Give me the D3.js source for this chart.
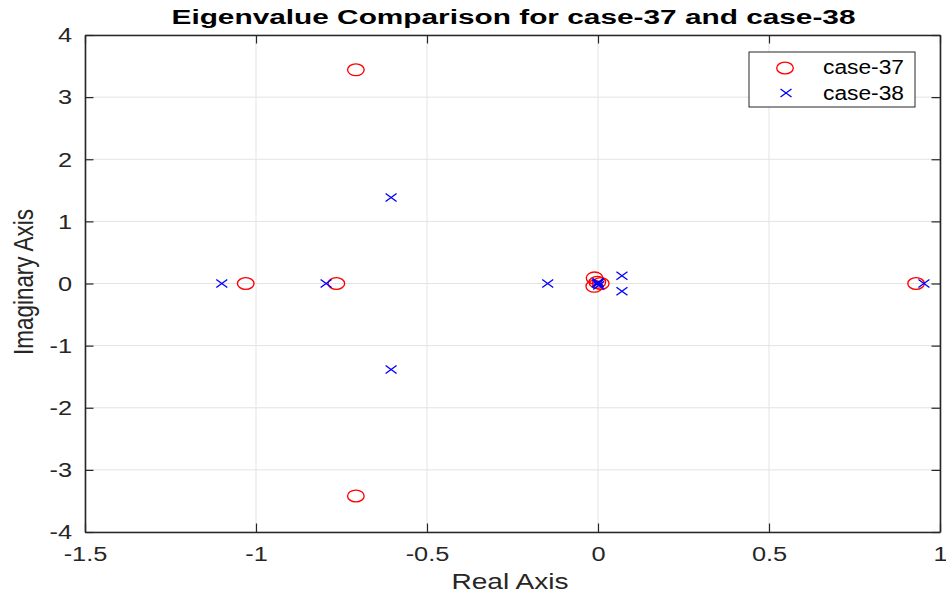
<!DOCTYPE html>
<html><head><meta charset="utf-8">
<script src="https://cdn.jsdelivr.net/npm/d3@7/dist/d3.min.js"></script>
<style>body{margin:0;background:#fff}svg{display:block}</style>
</head><body>
<svg id="chart" width="946" height="599"></svg>
<script>
// ---- data ----
const xTicks = [-1.5, -1, -0.5, 0, 0.5, 1];
const xTickLabels = ["-1.5", "-1", "-0.5", "0", "0.5", "1"];
const yTicks = [-4, -3, -2, -1, 0, 1, 2, 3, 4];
const yTickLabels = ["-4", "-3", "-2", "-1", "0", "1", "2", "3", "4"];
const seriesNames = ["case-37", "case-38"];
const case37Real = [-0.708, -0.708, -1.03, -0.765, 0.93, -0.010, -0.011, 0.008, -0.002];
const case37Imag = [3.44, -3.42, 0, 0, 0, 0.09, -0.045, 0, 0.02];
const case38Real = [-1.10, -0.795, -0.605, -0.605, -0.147, 0.07, 0.07, 0.953, 0, 0.002, -0.002, 0.001];
const case38Imag = [0, 0, 1.385, -1.385, 0, 0.125, -0.125, 0, 0.02, -0.03, 0, 0.005];
const titleText = "Eigenvalue Comparison for case-37 and case-38";
const xLabelText = "Real Axis";
const yLabelText = "Imaginary Axis";

// ---- layout ----
const L = 85, R = 940, T = 35, B = 532;
const FONT = "'Liberation Sans', Arial, Helvetica, sans-serif";
const AX = "#262626";
const SX = 1.3; // horizontal stretch of the reference text
const svg = d3.select("#chart");
svg.append("rect").attr("width", 946).attr("height", 599).attr("fill", "#fff");

const x = d3.scaleLinear().domain([-1.5, 1]).range([L, R]);
const y = d3.scaleLinear().domain([-4, 4]).range([B, T]);

// grid
const grid = svg.append("g").attr("stroke", "#e3e3e3").attr("stroke-width", 1);
grid.selectAll(".gx").data(xTicks).join("line")
  .attr("x1", d => x(d)).attr("x2", d => x(d)).attr("y1", T).attr("y2", B);
grid.selectAll(".gy").data(yTicks).join("line")
  .attr("y1", d => y(d)).attr("y2", d => y(d)).attr("x1", L).attr("x2", R);

// axes
const TK = 8.5;
function styleAxis(g) {
  g.select(".domain").attr("stroke", AX).attr("stroke-width", 1.6);
  g.selectAll(".tick line").attr("stroke", AX).attr("stroke-width", 1.2);
  g.selectAll("text").attr("fill", AX).attr("font-family", FONT).attr("font-size", 19.5);
}
const gxB = svg.append("g").attr("transform", `translate(0,${B})`)
  .call(d3.axisBottom(x).tickValues(xTicks).tickFormat((d, i) => xTickLabels[i]).tickSizeInner(-TK).tickSizeOuter(0));
styleAxis(gxB);
gxB.selectAll("text").attr("y", 28.5).attr("dy", 0);
const gxT = svg.append("g").attr("transform", `translate(0,${T})`)
  .call(d3.axisTop(x).tickValues(xTicks).tickFormat("").tickSizeInner(-TK).tickSizeOuter(0));
styleAxis(gxT);
const gyL = svg.append("g").attr("transform", `translate(${L},0)`)
  .call(d3.axisLeft(y).tickValues(yTicks).tickFormat((d, i) => yTickLabels[i]).tickSizeInner(-TK).tickSizeOuter(0));
styleAxis(gyL);
gyL.selectAll("text").attr("x", -13).attr("dy", "0.35em");
const gyR = svg.append("g").attr("transform", `translate(${R},0)`)
  .call(d3.axisRight(y).tickValues(yTicks).tickFormat("").tickSizeInner(-TK).tickSizeOuter(0));
styleAxis(gyR);

// stretch tick labels horizontally
svg.selectAll(".tick text").each(function () {
  const w = this.getComputedTextLength();
  if (w > 0) d3.select(this).attr("textLength", w * SX).attr("lengthAdjust", "spacingAndGlyphs");
});

// data
const plot = svg.append("g");
const d37 = case37Real.map((r, i) => ({ r, im: case37Imag[i] }));
const d38 = case38Real.map((r, i) => ({ r, im: case38Imag[i] }));
plot.selectAll(".c37").data(d37).join("ellipse")
  .attr("cx", d => x(d.r)).attr("cy", d => y(d.im)).attr("rx", 8.3).attr("ry", 5.9)
  .attr("fill", "none").attr("stroke", "#ff0000").attr("stroke-width", 1.35);
const xPath = (cx, cy) => `M${cx - 5.5},${cy - 4}L${cx + 5.5},${cy + 4}M${cx - 5.5},${cy + 4}L${cx + 5.5},${cy - 4}`;
plot.selectAll(".c38").data(d38).join("path")
  .attr("d", d => xPath(x(d.r), y(d.im)))
  .attr("fill", "none").attr("stroke", "#0000ff").attr("stroke-width", 1.35);

// title & labels
svg.append("text").attr("x", (L + R) / 2 + 1).attr("y", 24).attr("text-anchor", "middle")
  .attr("font-family", FONT).attr("font-weight", "bold").attr("font-size", 20).attr("fill", "#000")
  .attr("textLength", 684).attr("lengthAdjust", "spacingAndGlyphs").text(titleText);
svg.append("text").attr("x", 510).attr("y", 589).attr("text-anchor", "middle")
  .attr("font-family", FONT).attr("font-size", 22).attr("fill", AX)
  .attr("textLength", 117).attr("lengthAdjust", "spacingAndGlyphs").text(xLabelText);
svg.append("text").attr("transform", "translate(33,282) rotate(-90)").attr("text-anchor", "middle")
  .attr("font-family", FONT).attr("font-size", 27.5).attr("fill", AX)
  .attr("textLength", 146).attr("lengthAdjust", "spacingAndGlyphs").text(yLabelText);

// legend
const lg = svg.append("g");
lg.append("rect").attr("x", 749).attr("y", 52).attr("width", 166).attr("height", 55)
  .attr("fill", "#fff").attr("stroke", AX).attr("stroke-width", 1);
lg.append("ellipse").attr("cx", 785).attr("cy", 68).attr("rx", 8.3).attr("ry", 5.9)
  .attr("fill", "none").attr("stroke", "#ff0000").attr("stroke-width", 1.35);
lg.append("path").attr("d", xPath(786, 93)).attr("fill", "none").attr("stroke", "#0000ff").attr("stroke-width", 1.35);
lg.selectAll(".lt").data(seriesNames).join("text")
  .attr("x", 823).attr("y", (d, i) => i === 0 ? 74 : 99.5)
  .attr("font-family", FONT).attr("font-size", 19.5).attr("fill", "#000")
  .attr("textLength", 81).attr("lengthAdjust", "spacingAndGlyphs").text(d => d);
</script>
</body></html>
